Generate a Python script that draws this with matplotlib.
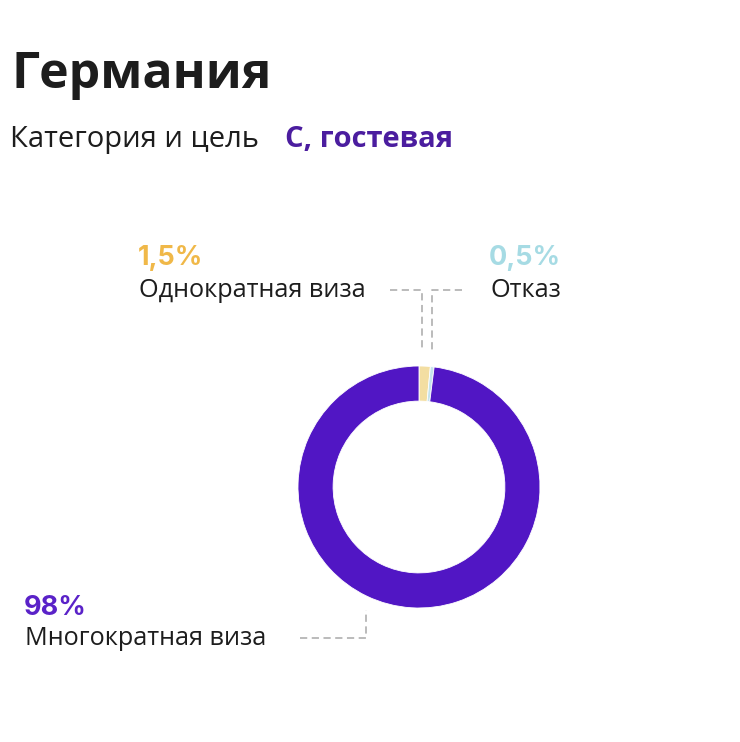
import matplotlib.pyplot as plt

# data
title = "Германия"
subtitle = "Категория и цель"
category = "С, гостевая"
labels = ["Однократная виза", "Отказ", "Многократная виза"]
pct_labels = ["1,5%", "0,5%", "98%"]
values = [1.5, 0.5, 98]

slice_colors = ["#f3dea2", "#c5e3ec", "#5116c4"]
pct_colors = ["#f0b848", "#a6dbe4", "#5a22c8"]

W, H = 740, 742


def main():
    fig = plt.figure(figsize=(W / 100, H / 100), dpi=100)

    # donut, centre (419, 487), radius 121 px
    cx, cy, r = 419, 487, 121
    ax = fig.add_axes([(cx - r) / W, (H - cy - r) / H, 2 * r / W, 2 * r / H])
    ax.pie(values, colors=slice_colors, startangle=90, counterclock=False,
           radius=1, wedgeprops=dict(width=0.29, edgecolor="white", linewidth=0.6))
    ax.set_xlim(-1, 1)
    ax.set_ylim(-1, 1)
    ax.set_aspect("equal")
    ax.axis("off")

    # overlay in pixel coords for texts and leader lines
    ov = fig.add_axes([0, 0, 1, 1], zorder=-1)
    ov.set_xlim(0, W)
    ov.set_ylim(H, 0)
    ov.axis("off")

    body = "Open Sans"
    ov.text(12, 88, title, fontsize=36, fontweight="bold", color="#1d1d1d",
            family=body, va="baseline")
    ov.text(10, 147, subtitle, fontsize=21, color="#1d1d1d", family=body, va="baseline")
    ov.text(285, 147, category, fontsize=21, fontweight="bold", color="#4b1d9f",
            family=body, va="baseline")

    # label positions (layout)
    pos = [(138, 265, 297), (489, 265, 297), (24, 615, 645)]
    for (x, y1, y2), lab, pct, col in zip(pos, labels, pct_labels, pct_colors):
        ov.text(x, y1, pct, fontsize=19.5, fontweight="bold", color=col,
                family="Inter", va="baseline")
        ov.text(x + 1, y2, lab, fontsize=18.2, color="#1d1d1d", family=body, va="baseline")

    dash = dict(color="#b5b5b5", lw=1.3, ls=(0, (4, 2.5)))
    ov.plot([390, 422, 422], [290, 290, 351], **dash)
    ov.plot([462, 432, 432], [290, 290, 351], **dash)
    ov.plot([300, 366, 366], [638, 638, 610], **dash)

    fig.savefig("out.png", dpi=100, facecolor="white")
    plt.close(fig)


if __name__ == "__main__":
    main()
